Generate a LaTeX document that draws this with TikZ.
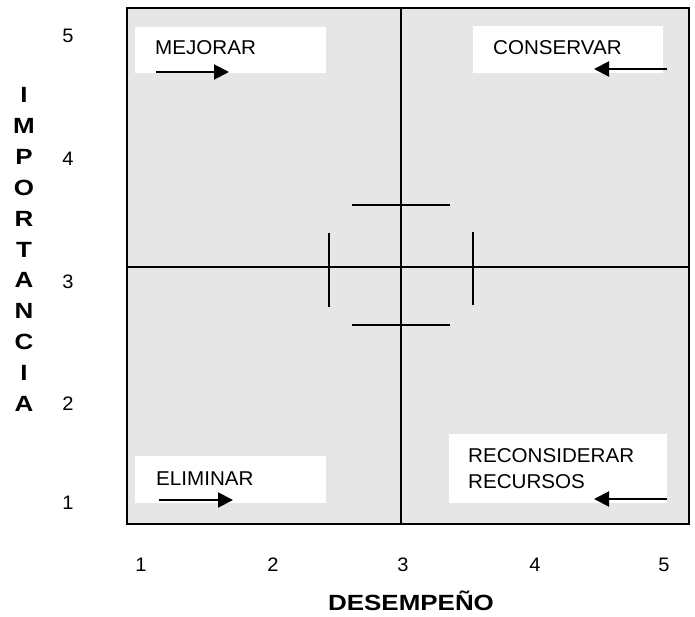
\documentclass[tikz,border=0pt]{standalone}
\usepackage{fontspec}
\setmainfont{Liberation Sans}[FakeStretch=1.03]
\newfontfamily\axbf{Liberation Sans Bold}[FakeStretch=1.18]
\usetikzlibrary{arrows.meta}
\definecolor{panel}{HTML}{E6E6E6}
\tikzset{
  lbl/.style={anchor=base west, inner sep=0pt, font=\fontsize{20}{27}\selectfont, align=left},
  num/.style={inner sep=0pt, font=\fontsize{19.5}{22}\selectfont},
  axl/.style={inner sep=0pt, font=\fontsize{22}{24}\selectfont\axbf},
  wbox/.style={fill=white, draw=none},
  arr/.style={line width=2pt, -{Triangle[length=15pt,width=15pt]}},
  grid/.style={line width=2pt},
  tick/.style={line width=2pt}
}
\begin{document}
\begin{tikzpicture}[x=1pt,y=-1pt]
\useasboundingbox (0,0) rectangle (695,617);
% panel
\fill[panel] (127,8) rectangle (689,524);
% white label boxes
\fill[wbox] (135,27) rectangle (326,73);
\fill[wbox] (473,26) rectangle (663,73);
\fill[wbox] (135,456) rectangle (326,503);
\fill[wbox] (449,434) rectangle (667,503);
% quadrant lines
\draw[grid] (401,8) -- (401,524);
\draw[grid] (127,267) -- (689,267);
% central marks
\draw[tick] (352,205) -- (450,205);
\draw[tick] (352,325) -- (450,325);
\draw[tick] (329,233) -- (329,307);
\draw[tick] (473,232) -- (473,305);
% frame
\draw[line width=2.3pt] (127,8) rectangle (689,524);
% labels
\node[lbl] (mej) at (155,55) {MEJORAR};
\node[lbl] (con) at (493,55) {CONSERVAR};
\node[lbl] (eli) at (156,485) {ELIMINAR};
\node[lbl] (rec1) at (468,462) {RECONSIDERAR};
\node[lbl] (rec2) at (468,488) {RECURSOS};
% arrows
\coordinate (ma) at (156,72); \coordinate (mb) at (229,72);
\coordinate (ca) at (667,69); \coordinate (cb) at (594,69);
\coordinate (ea) at (159,500); \coordinate (eb) at (233,500);
\coordinate (ra) at (667,499); \coordinate (rb) at (594,499);
\draw[arr] (ma) -- (mb);
\draw[arr] (ca) -- (cb);
\draw[arr] (ea) -- (eb);
\draw[arr] (ra) -- (rb);
% y numbers
\node[num] (y5) at (68,36) {5};
\node[num] (y4) at (68,159) {4};
\node[num] (y3) at (68,282) {3};
\node[num] (y2) at (68,404) {2};
\node[num] (y1) at (68,503) {1};
% x numbers
\node[num] (x1) at (141,565) {1};
\node[num] (x2) at (273,565) {2};
\node[num] (x3) at (403,565) {3};
\node[num] (x4) at (535,565) {4};
\node[num] (x5) at (664,565) {5};
% axis titles
\foreach \c [count=\i from 0] in {I,M,P,O,R,T,A,N,C,I,A}{
  \node[axl] (imp\i) at (24,{95+30.9*\i}) {\c};
}
\node[axl, anchor=base] (des) at (411,610) {DESEMPEÑO};
\end{tikzpicture}
\end{document}
